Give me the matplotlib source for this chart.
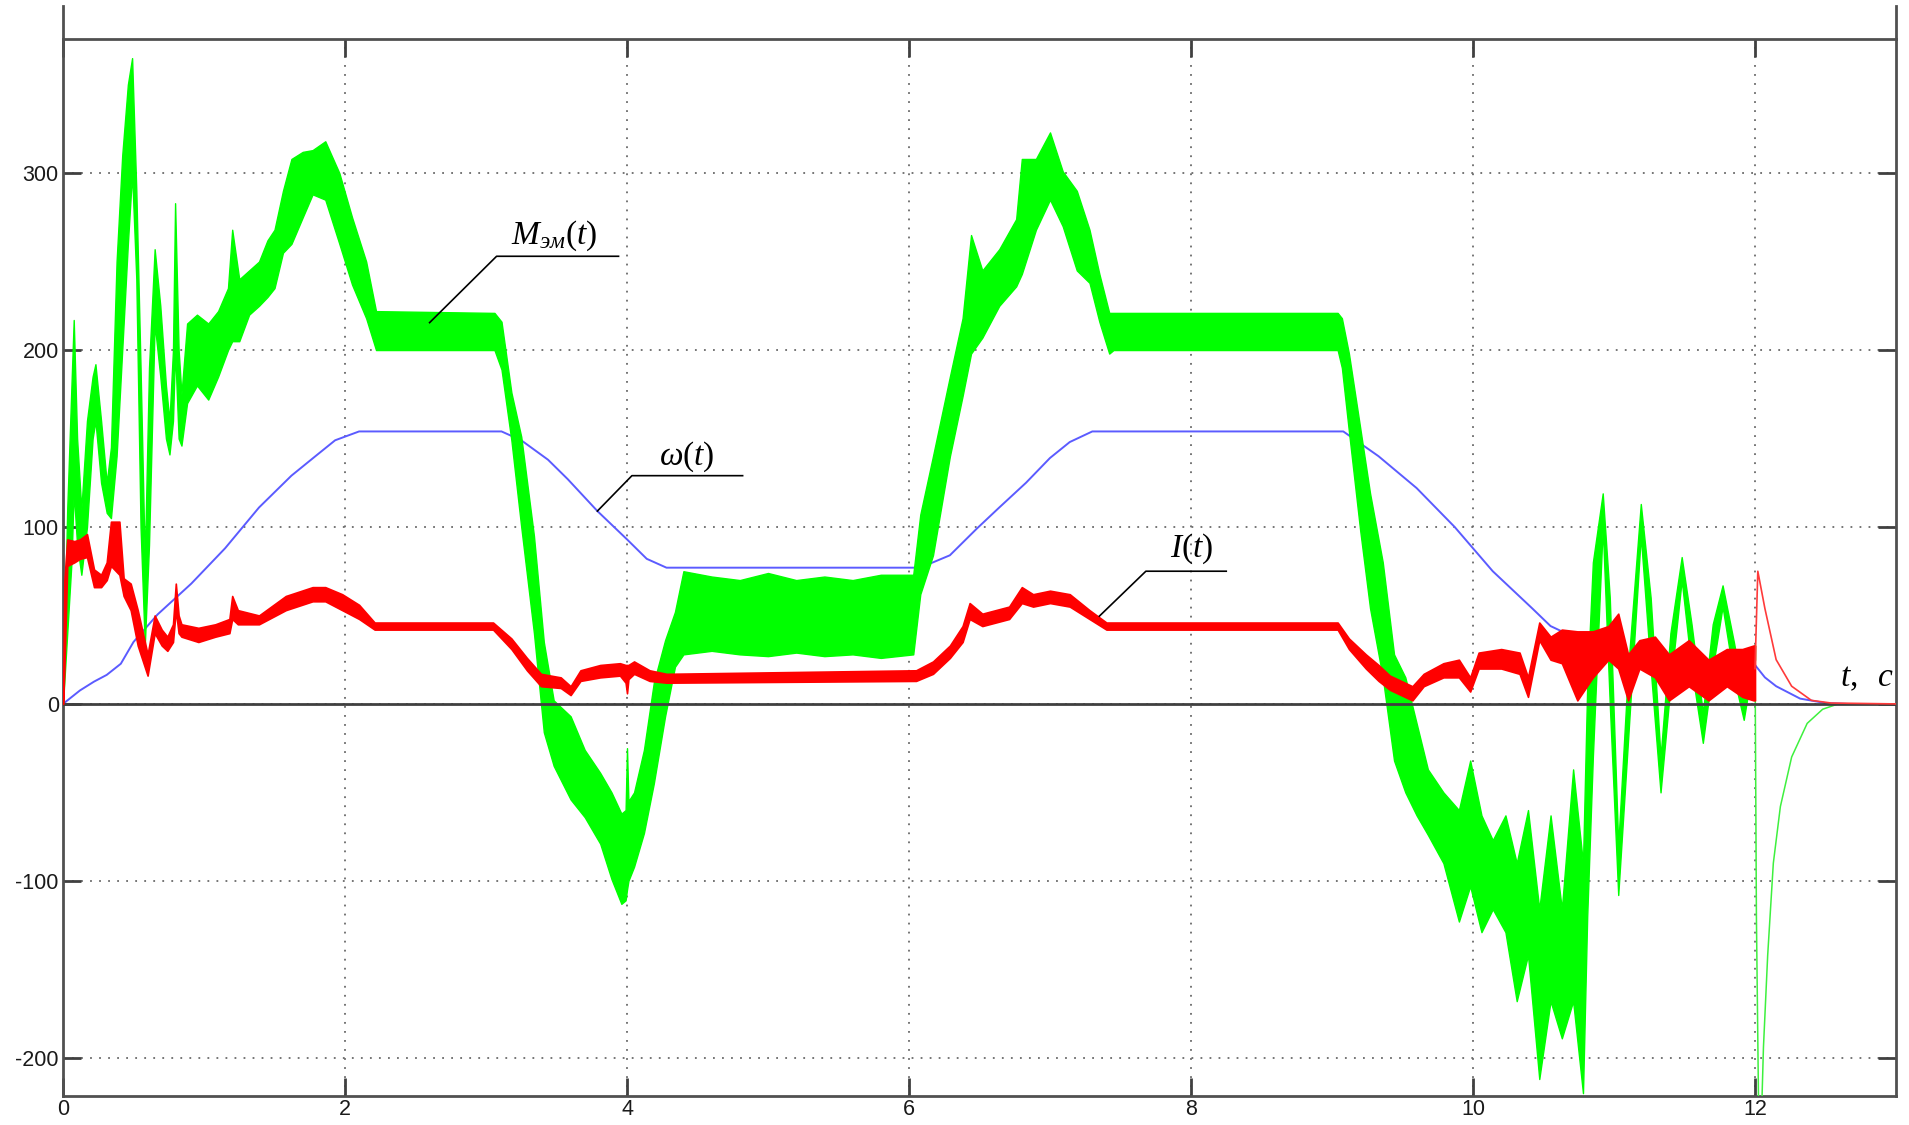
import matplotlib
matplotlib.use("Agg")
import matplotlib.pyplot as plt
from matplotlib.lines import Line2D

plt.rcParams['mathtext.fontset'] = 'custom'
plt.rcParams['mathtext.rm'] = 'Liberation Serif'
plt.rcParams['mathtext.it'] = 'Liberation Serif:italic'
plt.rcParams['mathtext.bf'] = 'Liberation Serif:bold'

# ---------------- data ----------------
x_ticks = [0, 2, 4, 6, 8, 10, 12]
x_tick_labels = ['0', '2', '4', '6', '8', '10', '12']
y_ticks = [-200, -100, 0, 100, 200, 300]
y_tick_labels = ['-200', '-100', '0', '100', '200', '300']

# electromagnetic torque M(t): noisy band (lower / upper envelope)
t_M = [0.00, 0.03, 0.06, 0.076, 0.10, 0.13, 0.17, 0.21, 0.23, 0.27, 0.31, 0.34,
       0.38, 0.42, 0.46, 0.49, 0.52, 0.55, 0.58, 0.61, 0.65, 0.69, 0.73, 0.755,
       0.78, 0.795, 0.82, 0.84, 0.88, 0.95, 1.03, 1.10, 1.17, 1.20, 1.25, 1.32,
       1.39, 1.45, 1.50, 1.56, 1.62, 1.70, 1.77, 1.86, 1.96, 2.05, 2.15, 2.22,
       3.06, 3.11, 3.18, 3.25, 3.34, 3.41, 3.48, 3.60, 3.70, 3.81, 3.89, 3.96,
       3.99, 4.00, 4.01, 4.05, 4.12, 4.19, 4.27, 4.34, 4.40, 4.60, 4.80, 5.00,
       5.20, 5.40, 5.60, 5.80, 6.03, 6.08, 6.17, 6.29, 6.38, 6.44, 6.52, 6.64,
       6.76, 6.80, 6.90, 7.00, 7.09, 7.19, 7.28, 7.35, 7.42, 7.45, 9.04, 9.07,
       9.12, 9.20, 9.27, 9.36, 9.44, 9.52, 9.60, 9.68, 9.79, 9.90, 9.98, 10.06,
       10.14, 10.23, 10.31, 10.39, 10.47, 10.55, 10.63, 10.71, 10.78, 10.81,
       10.85, 10.92, 10.97, 11.03, 11.10, 11.19, 11.26, 11.33, 11.40, 11.48,
       11.55, 11.63, 11.70, 11.77, 11.85, 11.92, 11.97, 12.00]
M_lo = [0, 40, 80, 120, 90, 73, 100, 150, 160, 125, 108, 105,
        140, 200, 260, 300, 240, 100, 33, 90, 215, 185, 150, 141,
        160, 200, 150, 146, 170, 180, 172, 185, 200, 205, 205, 220,
        225, 230, 235, 255, 260, 275, 288, 285, 260, 237, 218, 200,
        200, 189, 149, 100, 40, -16, -35, -54, -64, -79, -99, -113,
        -111, -105, -100, -92, -73, -45, -7, 21, 28, 30, 28, 27,
        29, 27, 28, 26, 28, 62, 84, 140, 174, 198, 207, 225,
        236, 243, 268, 285, 270, 245, 238, 216, 198, 200, 200, 190,
        154, 98, 54, 15, -32, -50, -63, -74, -90, -123, -103, -129,
        -116, -129, -168, -142, -212, -168, -189, -168, -220, -120,
        -30, 100, 0, -108, -20, 95, 20, -50, 10, 70,
        20, -22, 20, 55, 15, -9, 15, 25]
M_hi = [5, 110, 180, 217, 150, 110, 160, 185, 192, 160, 125, 145,
        250, 310, 350, 365, 290, 190, 80, 190, 257, 225, 180, 160,
        200, 283, 200, 175, 215, 220, 215, 222, 235, 268, 240, 245,
        250, 262, 268, 290, 308, 312, 313, 318, 300, 275, 250, 222,
        221, 216, 176, 151, 95, 35, 2, -7, -26, -39, -50, -62,
        -60, -25, -55, -50, -26, 12, 36, 52, 75, 72, 70, 74,
        70, 72, 70, 73, 73, 107, 140, 185, 218, 265, 245, 257,
        274, 308, 308, 323, 301, 290, 268, 243, 221, 221, 221, 218,
        198, 156, 119, 80, 28, 15, -11, -37, -50, -60, -32, -63,
        -77, -63, -90, -60, -116, -63, -116, -37, -90, 10,
        80, 119, 60, -80, 20, 113, 60, -30, 40, 83,
        45, -5, 45, 67, 35, 5, 30, 33]

# thin tail of M(t) after switch-off
t_M_tail = [12.00, 12.01, 12.03, 12.05, 12.06, 12.09, 12.13, 12.18, 12.26,
            12.37, 12.48, 12.59, 12.65]
M_tail = [33, -120, -260, -222, -194, -142, -90, -58, -30, -11, -3, 0, 0]

# current I(t): band
t_I = [0.00, 0.01, 0.03, 0.08, 0.12, 0.17, 0.22, 0.27, 0.31, 0.34, 0.40, 0.43,
       0.48, 0.53, 0.60, 0.65, 0.70, 0.74, 0.78, 0.80, 0.82, 0.84, 0.96, 1.08,
       1.18, 1.20, 1.24, 1.39, 1.58, 1.77, 1.86, 1.98, 2.10, 2.21, 3.05, 3.18,
       3.29, 3.39, 3.53, 3.60, 3.67, 3.81, 3.95, 3.99, 4.00, 4.01, 4.05, 4.16,
       4.28, 6.05, 6.17, 6.29, 6.38, 6.43, 6.52, 6.71, 6.80, 6.88, 7.00, 7.14,
       7.28, 7.40, 9.04, 9.12, 9.24, 9.33, 9.41, 9.57, 9.65, 9.79, 9.90, 9.98,
       10.04, 10.20, 10.33, 10.39, 10.47, 10.55, 10.63, 10.74, 10.85, 10.96,
       11.03, 11.10, 11.18, 11.29, 11.39, 11.53, 11.67, 11.80, 11.91, 11.99, 12.00]
I_lo = [0, 20, 78, 80, 82, 83, 66, 66, 70, 78, 73, 61,
        53, 33, 16, 40, 33, 30, 35, 53, 40, 38, 35, 38,
        40, 48, 45, 45, 53, 58, 58, 53, 48, 42, 42, 31,
        19, 10, 9, 5, 13, 15, 16, 12, 6, 14, 17, 13,
        12, 13, 17, 26, 35, 48, 44, 48, 57, 55, 57, 55,
        48, 42, 42, 31, 20, 13, 8, 2, 10, 15, 15, 7,
        20, 20, 17, 4, 36, 25, 23, 2, 15, 25,
        20, 2, 20, 15, 2, 10, 2, 10, 4, 2, 2]
I_hi = [0, 70, 93, 92, 93, 96, 76, 73, 80, 103, 103, 71,
        68, 53, 28, 50, 42, 38, 45, 68, 50, 45, 43, 45,
        48, 61, 53, 50, 61, 66, 66, 62, 56, 46, 46, 37,
        26, 17, 15, 10, 19, 22, 23, 22, 22, 22, 24, 19,
        17, 19, 24, 33, 44, 57, 51, 55, 66, 62, 64, 62,
        53, 46, 46, 37, 28, 22, 16, 10, 17, 23, 25, 15,
        29, 31, 29, 15, 46, 38, 42, 41, 41, 44,
        51, 28, 36, 38, 28, 36, 25, 31, 31, 33, 33]

# thin tail of I(t)
t_I_tail = [12.00, 12.02, 12.07, 12.15, 12.26, 12.40, 12.54, 13.00]
I_tail = [20, 75, 54, 25, 10, 2, 0.5, 0]

# angular speed w(t)
t_w = [0, 0.12, 0.22, 0.31, 0.41, 0.50, 0.67, 0.91, 1.15, 1.39, 1.62, 1.79,
       1.93, 2.10, 3.11, 3.25, 3.44, 3.58, 3.79, 4.00, 4.14, 4.28, 6.08, 6.29,
       6.48, 6.64, 6.83, 7.00, 7.14, 7.30, 9.08, 9.33, 9.60, 9.87, 10.14,
       10.42, 10.55, 10.63, 10.74, 10.88, 10.99, 11.10, 11.23, 11.50, 11.77,
       11.99, 12.07, 12.15, 12.32, 12.50, 12.65]
w = [0, 7.6, 12.6, 16.4, 22.7, 35, 50.5, 68, 88, 111, 129, 140,
     149, 154, 154, 149, 138, 127, 109, 93, 82, 77, 77, 84,
     99, 111, 125, 139, 148, 154, 154, 140, 122, 100, 75,
     54, 44, 41, 33, 25, 27, 21, 24, 23, 24,
     23, 15, 10, 3, 0.5, 0]

# ---------------- figure ----------------
W, H = 1909, 1125
fig = plt.figure(figsize=(W / 100, H / 100), dpi=100)
L, R, T, B = 63, 1896, 39, 1096
ax = fig.add_axes([L / W, 1 - B / H, (R - L) / W, (B - T) / H])
ax.set_xlim(0, 13)
ax.set_ylim(-221.6, 375.8)

ax.plot(t_w, w, color='#5b5bff', lw=1.4, zorder=2)
ax.fill_between(t_M, M_lo, M_hi, facecolor='#00ff00', edgecolor='#00ff00',
                lw=1.0, zorder=3)
ax.plot(t_M_tail, M_tail, color='#3ef03e', lw=1.1, zorder=3)
ax.axhline(0, color='#404040', lw=2.0, zorder=4)
ax.fill_between(t_I, I_lo, I_hi, facecolor='#ff0000', edgecolor='#ff0000',
                lw=1.2, zorder=5)
ax.plot(t_I_tail, I_tail, color='#ff3a3a', lw=1.2, zorder=5)

ax.set_xticks(x_ticks)
ax.set_xticklabels(x_tick_labels)
ax.set_yticks(y_ticks)
ax.set_yticklabels(y_tick_labels)
ax.tick_params(direction='in', length=13, width=2.0, color='#404040',
               top=True, right=True, labelsize=15.5, labelcolor='#1a1a1a')
ax.tick_params(axis='x', pad=2)
ax.tick_params(axis='y', pad=3)
for lab in ax.get_xticklabels() + ax.get_yticklabels():
    lab.set_family('Liberation Sans')
ax.grid(True, color='#6a6a6a', linestyle=(0, (1, 4)), lw=1.3)
for s in ax.spines.values():
    s.set_color('#505050')
    s.set_linewidth(2.0)

# spine extensions above the top border (both sides)
ext = (T - 6) / (B - T)
for xa in (0, 1):
    ax.add_line(Line2D([xa, xa], [1, 1 + ext], transform=ax.transAxes,
                       color='#505050', lw=2.0, clip_on=False))

# ---------------- annotations ----------------
lead = dict(color='black', lw=1.2, zorder=6)
ax.plot([2.60, 3.075, 3.94], [215.5, 253, 253], **lead)
ax.plot([3.79, 4.035, 4.82], [109, 129, 129], **lead)
ax.plot([7.35, 7.68, 8.25], [49.6, 75, 75], **lead)

ax.text(3.18, 260, r'$M_{\mathit{эм}}(t)$', fontsize=24, zorder=7)
ax.text(4.23, 135, r'$\omega(t)$', fontsize=24, zorder=7)
ax.text(7.85, 83, r'$I(t)$', fontsize=24, zorder=7)
ax.text(12.6, 10, r'$t,\ \;c$', fontsize=24, zorder=7)

fig.savefig('out.png', dpi=100)
